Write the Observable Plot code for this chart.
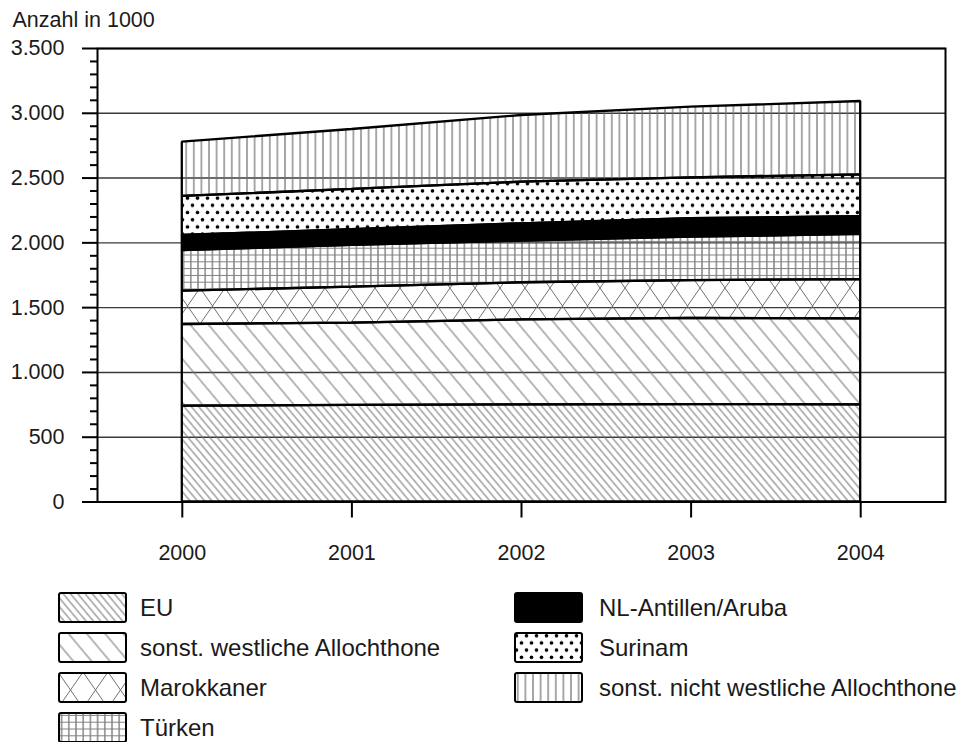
<!DOCTYPE html>
<html>
<head>
<meta charset="utf-8">
<script src="https://cdn.jsdelivr.net/npm/d3@7"></script>
<script src="https://cdn.jsdelivr.net/npm/@observablehq/plot@0.6"></script>
<style>
  html, body { margin: 0; padding: 0; background: #fff; overflow: hidden; }
  body { width: 959px; height: 742px; position: relative; font-family: "Liberation Sans", Arial, sans-serif; }
  #chart { position: absolute; left: 0; top: 0; }
  .leg { position: absolute; display: flex; align-items: center; font-size: 24px; color: #1a1a1a; white-space: nowrap; }
  .leg svg { flex: none; }
</style>
</head>
<body>
<svg width="0" height="0" style="position:absolute">
  <defs>
    <pattern id="p-eu" patternUnits="userSpaceOnUse" width="10" height="5.6" patternTransform="rotate(50)">
      <line x1="0" y1="2.8" x2="10" y2="2.8" stroke="#707070" stroke-width="1"/>
    </pattern>
    <pattern id="p-west" patternUnits="userSpaceOnUse" width="10" height="14" patternTransform="rotate(50)">
      <line x1="0" y1="7" x2="10" y2="7" stroke="#707070" stroke-width="1"/>
    </pattern>
    <pattern id="p-mar" patternUnits="userSpaceOnUse" width="25" height="36">
      <line x1="0" y1="0" x2="25" y2="36" stroke="#707070" stroke-width="1"/>
      <line x1="25" y1="0" x2="0" y2="36" stroke="#707070" stroke-width="1"/>
    </pattern>
    <pattern id="p-tur" patternUnits="userSpaceOnUse" width="7.2" height="6.8">
      <line x1="3.6" y1="0" x2="3.6" y2="6.8" stroke="#4a4a4a" stroke-width="1"/>
      <line x1="0" y1="3.4" x2="7.2" y2="3.4" stroke="#808080" stroke-width="1"/>
    </pattern>
    <pattern id="p-sur" patternUnits="userSpaceOnUse" width="10" height="14.4">
      <circle cx="2.5" cy="3.6" r="1.8" fill="#000"/>
      <circle cx="7.5" cy="10.8" r="1.8" fill="#000"/>
    </pattern>
    <pattern id="p-nw" patternUnits="userSpaceOnUse" width="7.6" height="10">
      <line x1="3.8" y1="0" x2="3.8" y2="10" stroke="#707070" stroke-width="1.2"/>
    </pattern>
  </defs>
</svg>
<div id="chart"></div>
<div id="legend"></div>
<script>
// ---- data (values in 1000) ----
const years = [2000, 2001, 2002, 2003, 2004];
const seriesNames = ["EU", "sonst. westliche Allochthone", "Marokkaner", "Türken", "NL-Antillen/Aruba", "Surinam", "sonst. nicht westliche Allochthone"];
const eu = [740, 745, 750, 752, 750];
const westlich = [630, 635, 656, 665, 664];
const marokkaner = [257, 278, 286, 292, 303];
const tuerken = [314, 322, 321, 335, 348];
const antillen = [116, 121, 134, 142, 138];
const surinam = [301, 311, 321, 316, 322];
const nichtWestlich = [419, 463, 515, 545, 566];
const yMajorTicks = [0, 500, 1000, 1500, 2000, 2500, 3000, 3500];

// ---- styling ----
const fillOf = {
  "EU": "url(#p-eu)",
  "sonst. westliche Allochthone": "url(#p-west)",
  "Marokkaner": "url(#p-mar)",
  "Türken": "url(#p-tur)",
  "NL-Antillen/Aruba": "#000",
  "Surinam": "url(#p-sur)",
  "sonst. nicht westliche Allochthone": "url(#p-nw)"
};

const valuesBySeries = [eu, westlich, marokkaner, tuerken, antillen, surinam, nichtWestlich];
const data = seriesNames.flatMap((s, i) => years.map((yr, j) => ({year: yr, series: s, value: valuesBySeries[i][j]})));
const yMinorTicks = d3.range(0, 3501, 100).filter(v => v % 500 !== 0);
const fmt = v => d3.format(",")(v).replace(/,/g, ".");

const chart = Plot.plot({
  width: 959,
  height: 580,
  marginLeft: 97,
  marginRight: 14,
  marginTop: 48,
  marginBottom: 78.5,
  style: {fontFamily: "Liberation Sans, Arial, sans-serif", fontSize: "21.5px", color: "#1a1a1a", background: "white"},
  x: {type: "linear", domain: [1999.5, 2004.5], axis: null},
  y: {domain: [0, 3500], axis: null},
  color: {type: "identity"},
  marks: [
    Plot.gridY(yMajorTicks, {stroke: "#3a3a3a", strokeOpacity: 1, strokeWidth: 1.4}),
    Plot.areaY(data, Plot.stackY({x: "year", y: "value", z: "series", fill: d => fillOf[d.series], stroke: "#000", strokeWidth: 2.3, strokeLinejoin: "miter"})),
    Plot.frame({stroke: "#000", strokeWidth: 2}),
    Plot.axisY(yMinorTicks, {tickSize: 7, tickFormat: () => "", strokeWidth: 2, stroke: "#000", label: null}),
    Plot.axisY(yMajorTicks, {tickSize: 15, tickPadding: 18, tickFormat: fmt, strokeWidth: 2, stroke: "#000", fontSize: 21.5, fill: "#1a1a1a", label: null}),
    Plot.axisX(years, {tickSize: 16, tickPadding: 27, tickFormat: d => String(d), strokeWidth: 2, stroke: "#000", fontSize: 21.5, fill: "#1a1a1a", label: null}),
    Plot.text(["Anzahl in 1000"], {frameAnchor: "top-left", lineAnchor: "middle", dx: -85, dy: -28, textAnchor: "start", fontSize: 21.5, fill: "#1a1a1a"})
  ]
});
document.getElementById("chart").appendChild(chart);

// ---- legend ----
const legendPos = [
  {x: 58, y: 592, gap: 12}, {x: 58, y: 632, gap: 12}, {x: 58, y: 672, gap: 12}, {x: 58, y: 712, gap: 12},
  {x: 514, y: 592, gap: 15}, {x: 514, y: 632, gap: 15}, {x: 514, y: 672, gap: 15}
];
const legend = document.getElementById("legend");
seriesNames.forEach((s, i) => {
  const div = document.createElement("div");
  div.className = "leg";
  div.style.left = legendPos[i].x + "px";
  div.style.top = legendPos[i].y + "px";
  div.innerHTML = `<svg width="70" height="31" style="margin-right:${legendPos[i].gap}px"><rect x="1" y="1" width="67" height="29" rx="2" fill="${fillOf[s]}" stroke="#000" stroke-width="2"/></svg><span></span>`;
  div.querySelector("span").textContent = s;
  legend.appendChild(div);
});
</script>
</body>
</html>
